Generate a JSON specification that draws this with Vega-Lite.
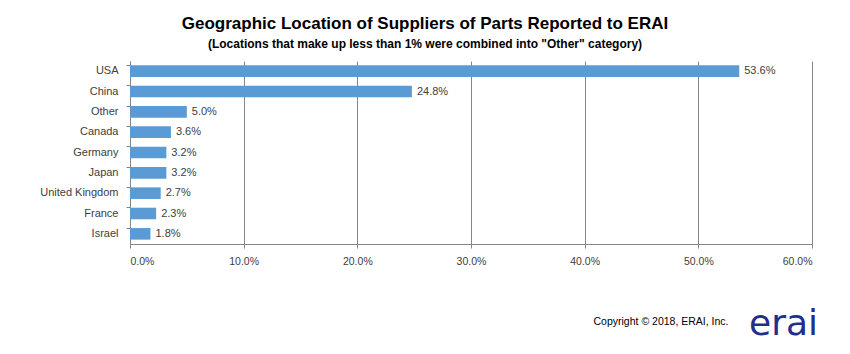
{
  "$schema": "https://vega.github.io/schema/vega-lite/v6.json",
  "autosize": {"type": "none"},
  "width": 682,
  "height": 183,
  "padding": {"left": 130, "top": 61, "right": 38, "bottom": 110},
  "background": "white",
  "title": {
    "text": "Geographic Location of Suppliers of Parts Reported to ERAI",
    "subtitle": "(Locations that make up less than 1% were combined into \"Other\" category)",
    "anchor": "middle",
    "frame": "group",
    "dx": -46,
    "offset": 10,
    "font": "Liberation Sans",
    "fontSize": 17,
    "fontWeight": "bold",
    "color": "#000000",
    "subtitleFont": "Liberation Sans",
    "subtitleFontSize": 12,
    "subtitleFontWeight": "bold",
    "subtitleColor": "#000000",
    "subtitlePadding": 6
  },
  "data": {
    "values": [
      {"country": "USA", "share": 0.536},
      {"country": "China", "share": 0.248},
      {"country": "Other", "share": 0.05},
      {"country": "Canada", "share": 0.036},
      {"country": "Germany", "share": 0.032},
      {"country": "Japan", "share": 0.032},
      {"country": "United Kingdom", "share": 0.027},
      {"country": "France", "share": 0.023},
      {"country": "Israel", "share": 0.018}
    ]
  },
  "encoding": {
    "y": {
      "field": "country",
      "type": "nominal",
      "sort": null,
      "scale": {"paddingInner": 0.43, "paddingOuter": 0.215},
      "axis": {
        "title": "erai",
        "titleAngle": 0,
        "titleX": 653,
        "titleY": 273,
        "titleAlign": "center",
        "titleBaseline": "alphabetic",
        "titleFont": "DejaVu Sans",
        "titleFontSize": 36,
        "titleFontWeight": "normal",
        "titleColor": "#1f2f8f",
        "bandPosition": 0,
        "domainColor": "#868686",
        "tickColor": "#868686",
        "tickSize": 4,
        "labelPadding": 8,
        "labelFont": "Liberation Sans",
        "labelFontSize": 11,
        "labelColor": "#404040",
        "grid": false
      }
    },
    "x": {
      "field": "share",
      "type": "quantitative",
      "scale": {"domain": [0, 0.6], "nice": false},
      "axis": {
        "format": ".1%",
        "values": [0, 0.1, 0.2, 0.3, 0.4, 0.5, 0.6],
        "title": "Copyright © 2018, ERAI, Inc.",
        "titleX": 598,
        "titleY": 80,
        "titleAlign": "right",
        "titleAnchor": null,
        "titleBaseline": "alphabetic",
        "titleFont": "Liberation Sans",
        "titleFontSize": 10.5,
        "titleFontWeight": "normal",
        "titleColor": "#000000",
        "grid": true,
        "gridColor": "#868686",
        "gridWidth": 1,
        "domainColor": "#868686",
        "tickColor": "#868686",
        "tickSize": 4,
        "labelPadding": 8,
        "labelFont": "Liberation Sans",
        "labelFontSize": 10.5,
        "labelColor": "#404040"
      }
    }
  },
  "layer": [
    {"mark": {"type": "bar", "color": "#5B9BD5"}},
    {
      "mark": {"type": "text", "align": "left", "baseline": "middle", "dx": 5, "font": "Liberation Sans", "fontSize": 11, "color": "#404040"},
      "encoding": {"text": {"field": "share", "type": "quantitative", "format": ".1%"}}
    }
  ],
  "config": {"view": {"stroke": null}}
}
